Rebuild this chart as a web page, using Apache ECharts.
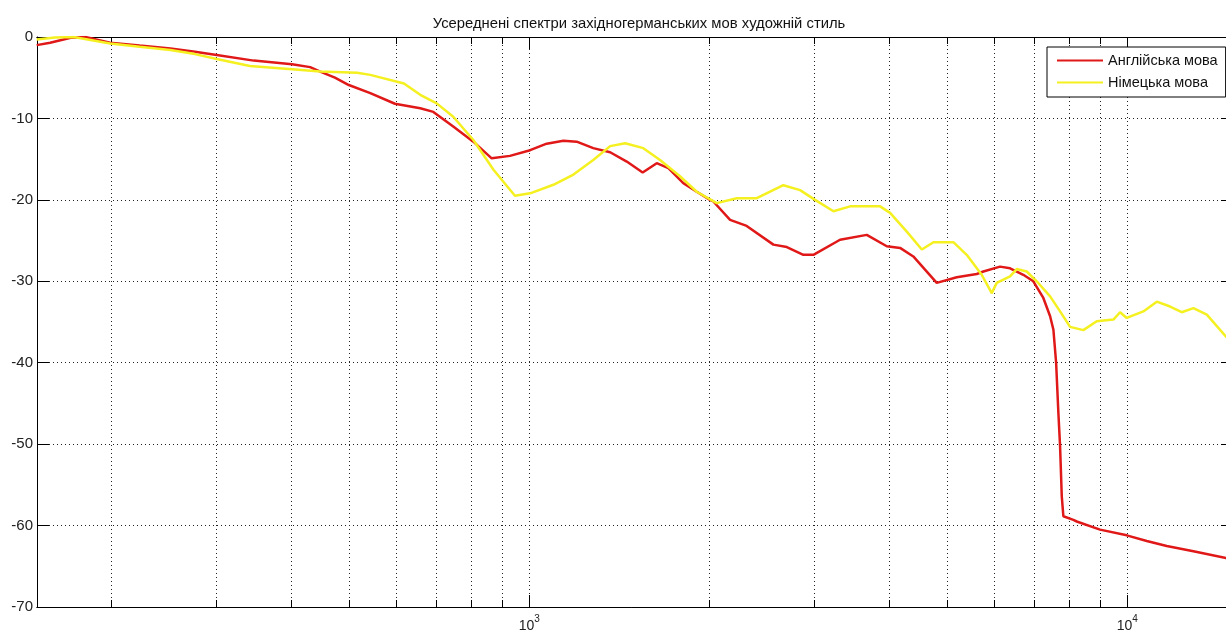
<!DOCTYPE html>
<html>
<head>
<meta charset="utf-8">
<script src="https://cdn.jsdelivr.net/npm/echarts@6/dist/echarts.min.js"></script>
<style>
  html, body { margin: 0; padding: 0; background: #fff; }
  #chart { width: 1226px; height: 634px; }
</style>
</head>
<body>
<div id="chart"></div>
<script>
// Averaged spectra, fiction style: frequency (Hz) and level (dB)
const freqEn = [150, 158, 171, 181, 199, 223, 251, 276, 300, 346, 401, 430, 447, 473, 499, 542, 596, 657, 691, 746, 806, 865, 928, 1003, 1069, 1140, 1200, 1279, 1365, 1455, 1547, 1633, 1708, 1809, 1905, 2005, 2031, 2166, 2309, 2559, 2695, 2872, 2985, 3308, 3666, 3960, 4168, 4386, 4800, 5184, 5600, 5744, 6124, 6366, 6699, 6962, 7236, 7427, 7522, 7601, 7668, 7718, 7768, 7816, 8123, 8229, 9001, 9977, 10776, 11637, 12896, 14622, 15000];
const dbEn   = [-1.0, -0.7, -0.1, 0, -0.7, -1.05, -1.4, -1.8, -2.2, -2.9, -3.35, -3.7, -4.25, -5.0, -5.9, -6.9, -8.2, -8.75, -9.2, -11.0, -12.85, -14.9, -14.6, -13.9, -13.1, -12.75, -12.85, -13.65, -14.15, -15.3, -16.65, -15.5, -16.1, -17.95, -19.0, -20.0, -20.2, -22.45, -23.2, -25.5, -25.8, -26.75, -26.75, -24.9, -24.3, -25.7, -25.9, -26.95, -30.2, -29.5, -29.1, -28.8, -28.2, -28.4, -29.2, -30.0, -32.05, -34.3, -35.95, -40.0, -46.2, -50.3, -56.4, -58.85, -59.3, -59.5, -60.5, -61.2, -61.9, -62.5, -63.15, -64.0, -64.1];

const freqDe = [150, 161, 173, 199, 223, 251, 276, 300, 341, 401, 447, 515, 542, 617, 657, 700, 746, 806, 871, 946, 1003, 1097, 1185, 1279, 1365, 1446, 1551, 1654, 1786, 1905, 2058, 2222, 2401, 2659, 2836, 3004, 3225, 3439, 3859, 4011, 4277, 4532, 4739, 5117, 5387, 5707, 5932, 6047, 6366, 6531, 6788, 7054, 7427, 7718, 8020, 8441, 8887, 9476, 9723, 9977, 10636, 11200, 11787, 12330, 12896, 13579, 14622, 15000];
const dbDe   = [-0.3, -0.05, 0, -0.8, -1.2, -1.6, -2.1, -2.7, -3.55, -3.95, -4.25, -4.4, -4.65, -5.7, -7.1, -8.15, -9.8, -12.65, -16.3, -19.5, -19.2, -18.15, -16.9, -15.1, -13.4, -13.05, -13.65, -15.1, -17.1, -19.0, -20.4, -19.8, -19.8, -18.2, -18.8, -20.0, -21.4, -20.8, -20.8, -21.6, -23.9, -26.1, -25.2, -25.2, -26.75, -29.2, -31.45, -30.2, -29.4, -28.5, -28.8, -30.0, -31.85, -33.7, -35.6, -36.0, -34.9, -34.7, -33.8, -34.5, -33.7, -32.5, -33.1, -33.8, -33.3, -34.1, -36.8, -37.4];

const seriesNames = ['Англійська мова', 'Німецька мова'];
const titleText = 'Усереднені спектри західногерманських мов художній стиль';

// Log-axis ticks: decades carry labels, the rest are minor grid positions
const majorTicks = [1000, 10000];
const minorTicks = [200, 300, 400, 500, 600, 700, 800, 900, 1000, 2000, 3000, 4000, 5000, 6000, 7000, 8000, 9000, 10000];
const yTicks = [0, -10, -20, -30, -40, -50, -60, -70];

// Visible frequency window (the plot box runs a little past the right edge)
const X_MIN = 150.2, X_MAX = 14620;

const pairs = (xs, ys) => xs.map((x, i) => [x, ys[i]]);

const dotted = { color: '#222', width: 1, type: [1, 3] };
const axisBlack = { color: '#000', width: 1 };
const labelFont = 'Liberation Sans, Arial, sans-serif';

function logAxis(position, ticks, len, withLabels, withGrid) {
  return {
    type: 'log', logBase: 10, min: X_MIN, max: X_MAX, position: position,
    axisLine: { show: true, onZero: false, lineStyle: axisBlack },
    axisTick: { show: true, inside: true, length: len, customValues: ticks, lineStyle: axisBlack },
    axisLabel: withLabels ? {
      show: true, customValues: majorTicks, margin: 6,
      formatter: v => '{a|10}{b|' + Math.round(Math.log10(v)) + '}',
      rich: {
        a: { fontFamily: labelFont, fontSize: 14, color: '#222', padding: [6, 0, 0, 0] },
        b: { fontFamily: labelFont, fontSize: 10, color: '#222', padding: [0, 0, 7, 0] }
      }
    } : { show: false },
    splitLine: { show: withGrid, lineStyle: dotted },
    minorTick: { show: false }
  };
}

function linAxis(position, len, withLabels, withGrid, withLine) {
  return {
    type: 'value', min: yTicks[yTicks.length - 1], max: yTicks[0], interval: 10, position: position,
    axisLine: { show: withLine, onZero: false, lineStyle: axisBlack },
    axisTick: { show: true, inside: true, length: len, lineStyle: axisBlack },
    axisLabel: withLabels ? {
      show: true, margin: 4, fontFamily: labelFont, fontSize: 15, color: '#222',
      formatter: v => String(v)
    } : { show: false },
    splitLine: { show: withGrid, lineStyle: dotted }
  };
}

const chart = echarts.init(document.getElementById('chart'), null, { renderer: 'canvas' });
chart.setOption({
  animation: false,
  backgroundColor: '#fff',
  title: {
    text: titleText, left: 634, top: 11, textAlign: 'center',
    textStyle: { fontFamily: labelFont, fontSize: 14.8, fontWeight: 'normal', color: '#111' }
  },
  legend: {
    orient: 'vertical', left: 1047, top: 47,
    data: seriesNames,
    icon: 'rect', itemWidth: 46, itemHeight: 2, itemGap: 5,
    padding: [5, 8, 6, 10],
    borderColor: '#000', borderWidth: 1, backgroundColor: '#fff',
    textStyle: { fontFamily: labelFont, fontSize: 14.5, color: '#111', lineHeight: 17 }
  },
  grid: { left: 37, top: 37, right: 0, bottom: 27, containLabel: false },
  xAxis: [
    logAxis('bottom', minorTicks, 7, true, true),
    logAxis('bottom', majorTicks, 12, false, false),
    logAxis('top', minorTicks, 7, false, false),
    logAxis('top', majorTicks, 12, false, false)
  ],
  yAxis: [
    linAxis('left', 12, true, true, true),
    linAxis('right', 5, false, false, false)
  ],
  series: [
    {
      name: seriesNames[0], type: 'line', xAxisIndex: 0, yAxisIndex: 0,
      data: pairs(freqEn, dbEn), showSymbol: false, symbol: 'none',
      lineStyle: { color: '#e01818', width: 2.5 }, itemStyle: { color: '#e01818' },
      clip: true
    },
    {
      name: seriesNames[1], type: 'line', xAxisIndex: 0, yAxisIndex: 0,
      data: pairs(freqDe, dbDe), showSymbol: false, symbol: 'none',
      lineStyle: { color: '#f5f020', width: 2.5 }, itemStyle: { color: '#f5f020' },
      clip: true
    }
  ]
});
</script>
</body>
</html>
